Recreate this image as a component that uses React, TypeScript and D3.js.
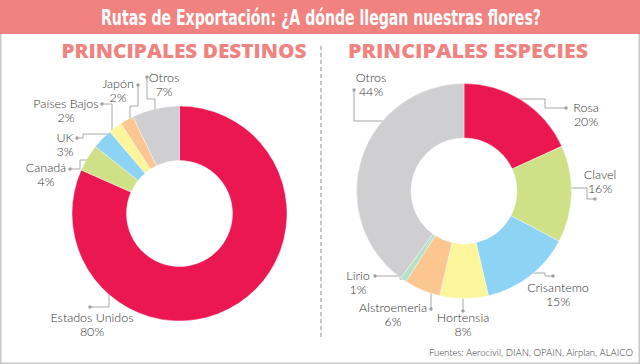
import React from "react";
import * as d3 from "d3";

// data
const destinos = ["Estados Unidos", "Canadá", "UK", "Países Bajos", "Japón", "Otros"];
const destinosPct = [80, 4, 3, 2, 2, 7];
const destinosColors = ["#ea1751", "#cfe087", "#8dd3f3", "#fdf59b", "#fcc690", "#cfcfd1"];

const especies = ["Rosa", "Clavel", "Crisantemo", "Hortensia", "Alstroemeria", "Lirio", "Otros"];
const especiesPct = [20, 16, 15, 8, 6, 1, 44];
const especiesColors = ["#ea1751", "#cfe087", "#8dd3f3", "#fdf59b", "#fcc690", "#b5e2c6", "#cfcfd1"];

// label layout: text centre / baseline, dot, elbow points, final direction to the ring
const destinosLabels = [
  { x: 92, y: 322, dot: [90, 307], via: [[109, 307]], end: "v" },
  { x: 46, y: 172, dot: [70, 169], via: [[80, 169], [80, 160]], end: "h" },
  { x: 65, y: 142, dot: [77, 138], via: [[83, 138], [83, 134]], end: "h" },
  { x: 66, y: 108, dot: [102, 104], via: [[112, 104]], end: "v" },
  { x: 118, y: 88, dot: [138, 85], via: [[138, 106], [130, 106]], end: "v" },
  { x: 164, y: 82, dot: [147, 77], via: [[147, 99], [155, 99]], end: "v" },
];

const especiesLabels = [
  { x: 586, y: 112, dot: [566, 108], via: [[545, 108], [545, 99]], end: "h" },
  { x: 600, y: 179, dot: [595, 199], via: [[587, 199], [587, 188]], end: "h" },
  { x: 558, y: 292, dot: [553, 276], via: [[545, 276], [545, 273]], end: "h" },
  { x: 463, y: 322, dot: [463, 311], via: [], end: "v" },
  { x: 393, y: 312, dot: [431, 309], via: [], end: "v" },
  { x: 358, y: 280, dot: [375, 276], via: [[400, 276], [400, 279]], end: "h" },
  { x: 371, y: 82, dot: [354, 90], via: [[354, 121]], end: "h" },
];

const W = 640;
const H = 364;
const R = 107.5;
const r = 53;

type Lab = { x: number; y: number; dot: number[]; via: number[][]; end: string };

function Donut({ cx, cy, names, values, colors, labels }: {
  cx: number; cy: number; names: string[]; values: number[]; colors: string[]; labels: Lab[];
}) {
  const pie = d3.pie<number>().sort(null).value((d) => d);
  const arcs = pie(values);
  const arc = d3.arc<d3.PieArcDatum<number>>().innerRadius(r).outerRadius(R);

  // leader: dot -> elbows -> straight into the ring
  const leaders = labels.map((l) => {
    const pts = [l.dot, ...l.via];
    const last = pts[pts.length - 1];
    let endPt: number[];
    if (l.end === "v") {
      const dx = last[0] - cx;
      const h = Math.sqrt(Math.max(0, R * R - dx * dx)) - 3;
      endPt = [last[0], last[1] < cy ? cy - h : cy + h];
    } else {
      const dy = last[1] - cy;
      const w = Math.sqrt(Math.max(0, R * R - dy * dy)) - 3;
      endPt = [last[0] < cx ? cx - w : cx + w, last[1]];
    }
    return d3.line()([...pts, endPt] as [number, number][]);
  });

  return (
    <g>
      {leaders.map((p, i) => (
        <path key={"l" + i} d={p || ""} fill="none" stroke="#a8a8a8" strokeWidth={1} />
      ))}
      <g transform={`translate(${cx},${cy})`}>
        {arcs.map((a, i) => (
          <path key={i} d={arc(a) || ""} fill={colors[i]} stroke="#fff" strokeWidth={0.4} />
        ))}
      </g>
      {labels.map((l, i) => (
        <g key={"t" + i}>
          <circle cx={l.dot[0]} cy={l.dot[1]} r={1.7} fill="#a0a0a0" />
          <text x={l.x} y={l.y} textAnchor="middle" fontSize={12.5} fontWeight={300} fill="#333"
            fontFamily="Lato, 'Open Sans', sans-serif">
            <tspan x={l.x}>{names[i]}</tspan>
            <tspan x={l.x} dy={13.5}>{values[i]}%</tspan>
          </text>
        </g>
      ))}
    </g>
  );
}

export default function App() {
  return (
    <div style={{ width: W, height: H }}>
      <style>{`body{margin:0}`}</style>
      <svg width={W} height={H} style={{ display: "block", background: "#fff" }}>
        <rect x={0.75} y={0.75} width={W - 1.5} height={H - 1.5} fill="#fff" stroke="#c8c8c8" strokeWidth={1.5} />
        <rect x={0} y={0} width={W} height={34} fill="#f1827f" />
        <text x={321} y={25} textAnchor="middle" fill="#fff" fontSize={21} fontWeight="bold"
          fontFamily="'Liberation Sans Narrow', 'DejaVu Sans Condensed', Roboto, sans-serif"
          textLength={440} lengthAdjust="spacingAndGlyphs">
          Rutas de Exportación: ¿A dónde llegan nuestras flores?
        </text>

        <text x={184} y={58} textAnchor="middle" fill="#f0837f" fontSize={18.5} fontWeight={800}
          fontFamily="'Open Sans', Lato, sans-serif" textLength={245} lengthAdjust="spacingAndGlyphs">
          PRINCIPALES DESTINOS
        </text>
        <text x={468} y={58} textAnchor="middle" fill="#f0837f" fontSize={18.5} fontWeight={800}
          fontFamily="'Open Sans', Lato, sans-serif" textLength={240} lengthAdjust="spacingAndGlyphs">
          PRINCIPALES ESPECIES
        </text>

        <line x1={321} x2={321} y1={46} y2={340} stroke="#8a8a8a" strokeWidth={1} strokeDasharray="4,3" />

        <Donut cx={179.5} cy={213.5} names={destinos} values={destinosPct} colors={destinosColors} labels={destinosLabels} />
        <Donut cx={464} cy={191} names={especies} values={especiesPct} colors={especiesColors} labels={especiesLabels} />

        <text x={633} y={356} textAnchor="end" fontSize={9.5} fontWeight={300} fill="#333"
          fontFamily="Lato, 'Open Sans', sans-serif">
          Fuentes: Aerocivil, DIAN, OPAIN, Airplan, ALAICO
        </text>
      </svg>
    </div>
  );
}
